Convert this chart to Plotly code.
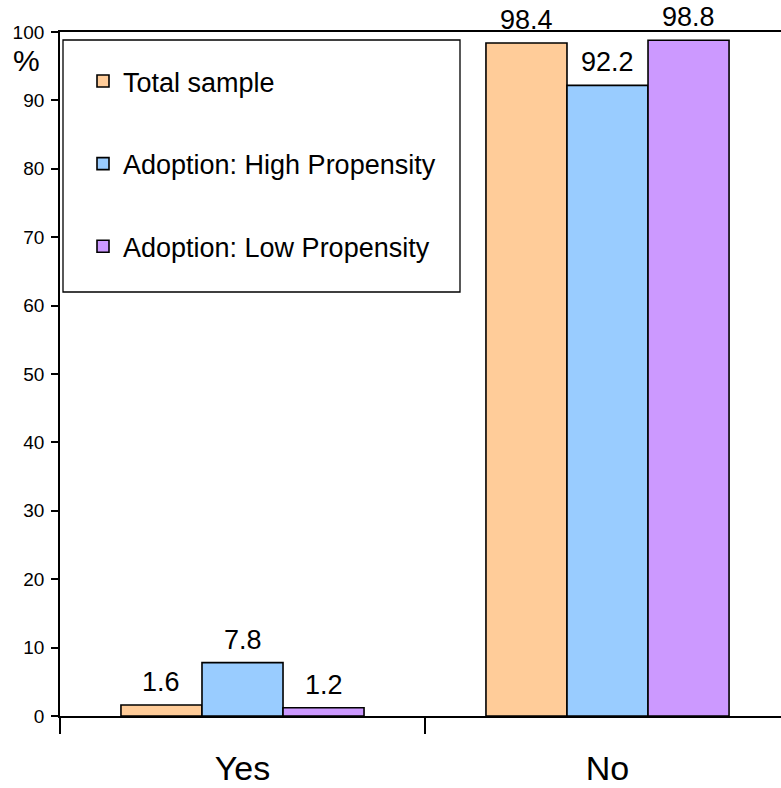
import plotly.graph_objects as go

categories = ["Yes", "No"]
series_names = ["Total sample", "Adoption: High Propensity", "Adoption: Low Propensity"]
total_sample = [1.6, 98.4]
high_propensity = [7.8, 92.2]
low_propensity = [1.2, 98.8]
y_ticks = [0, 10, 20, 30, 40, 50, 60, 70, 80, 90, 100]

colors = ["#FFCC99", "#99CCFF", "#CC99FF"]
FONT = "Liberation Sans, Arial, sans-serif"

W, H = 781, 788
ML, MR, MT, MB = 60, 0, 32, 72
PW = W - ML - MR
PH = H - MT - MB
CAT_PX = 365.0          # pixels per category
BARGAP = 0.334
BAR_PX = CAT_PX * (1 - BARGAP) / 3

def px_x(sx):  # screen x -> paper
    return (sx - ML) / PW

def px_y(sy):  # screen y -> paper
    return (H - MB - sy) / PH

fig = go.Figure()
all_vals = [total_sample, high_propensity, low_propensity]
annotations = []
for i, (name, vals) in enumerate(zip(series_names, all_vals)):
    fig.add_trace(go.Bar(
        x=categories, y=vals, name=name,
        marker=dict(color=colors[i], line=dict(color="black", width=1.6)),
        cliponaxis=False, legendgroup=f"g{i}",
    ))
    for c, v in zip(categories, vals):
        annotations.append(dict(
            x=c, y=v, xref="x", yref="y", text=f"{v:.1f}",
            xanchor="center", yanchor="bottom", showarrow=False,
            xshift=(i - 1) * BAR_PX, yshift=6,
            font=dict(family=FONT, size=27, color="black"),
        ))

annotations.append(dict(
    text="%", xref="paper", yref="paper", x=px_x(26), y=px_y(61),
    xanchor="center", yanchor="middle", showarrow=False,
    font=dict(family=FONT, size=30, color="black"),
))

fig.update_layout(
    width=W, height=H,
    margin=dict(l=ML, r=MR, t=MT, b=MB, pad=0, autoexpand=False),
    paper_bgcolor="white", plot_bgcolor="white",
    font=dict(family=FONT, color="black"),
    barmode="group", bargap=BARGAP, bargroupgap=0,
    showlegend=True,
    legend=dict(
        x=px_x(83), y=px_y(57), xanchor="left", yanchor="top",
        bgcolor="rgba(0,0,0,0)", borderwidth=0,
        font=dict(family=FONT, size=27, color="black"),
        tracegroupgap=44.5, traceorder="grouped",
        itemwidth=30,
    ),
    xaxis=dict(
        range=[-0.5, -0.5 + PW / CAT_PX],
        showline=True, linecolor="black", linewidth=1.8, mirror=True,
        ticks="outside", tickson="boundaries", ticklen=16, tickcolor="black", tickwidth=1.8,
        tickfont=dict(family=FONT, size=34, color="black"),
        ticklabelstandoff=21,
        showgrid=False, zeroline=False,
    ),
    yaxis=dict(
        range=[0, 100], tickvals=y_ticks,
        showline=True, linecolor="black", linewidth=1.8,
        ticks="outside", ticklen=7, tickcolor="black", tickwidth=1.8,
        tickfont=dict(family=FONT, size=19, color="black"),
        ticklabelstandoff=3,
        showgrid=False, zeroline=False,
    ),
    shapes=[dict(
        type="rect", xref="paper", yref="paper",
        x0=px_x(63), x1=px_x(460), y0=px_y(292), y1=px_y(40),
        line=dict(color="black", width=1.3), fillcolor="rgba(0,0,0,0)", layer="above",
    )],
    annotations=annotations,
)

fig.write_html(
    "out.html",
    config={"displayModeBar": False},
    post_script="document.body.style.margin='0';document.body.style.overflow='hidden';",
)
